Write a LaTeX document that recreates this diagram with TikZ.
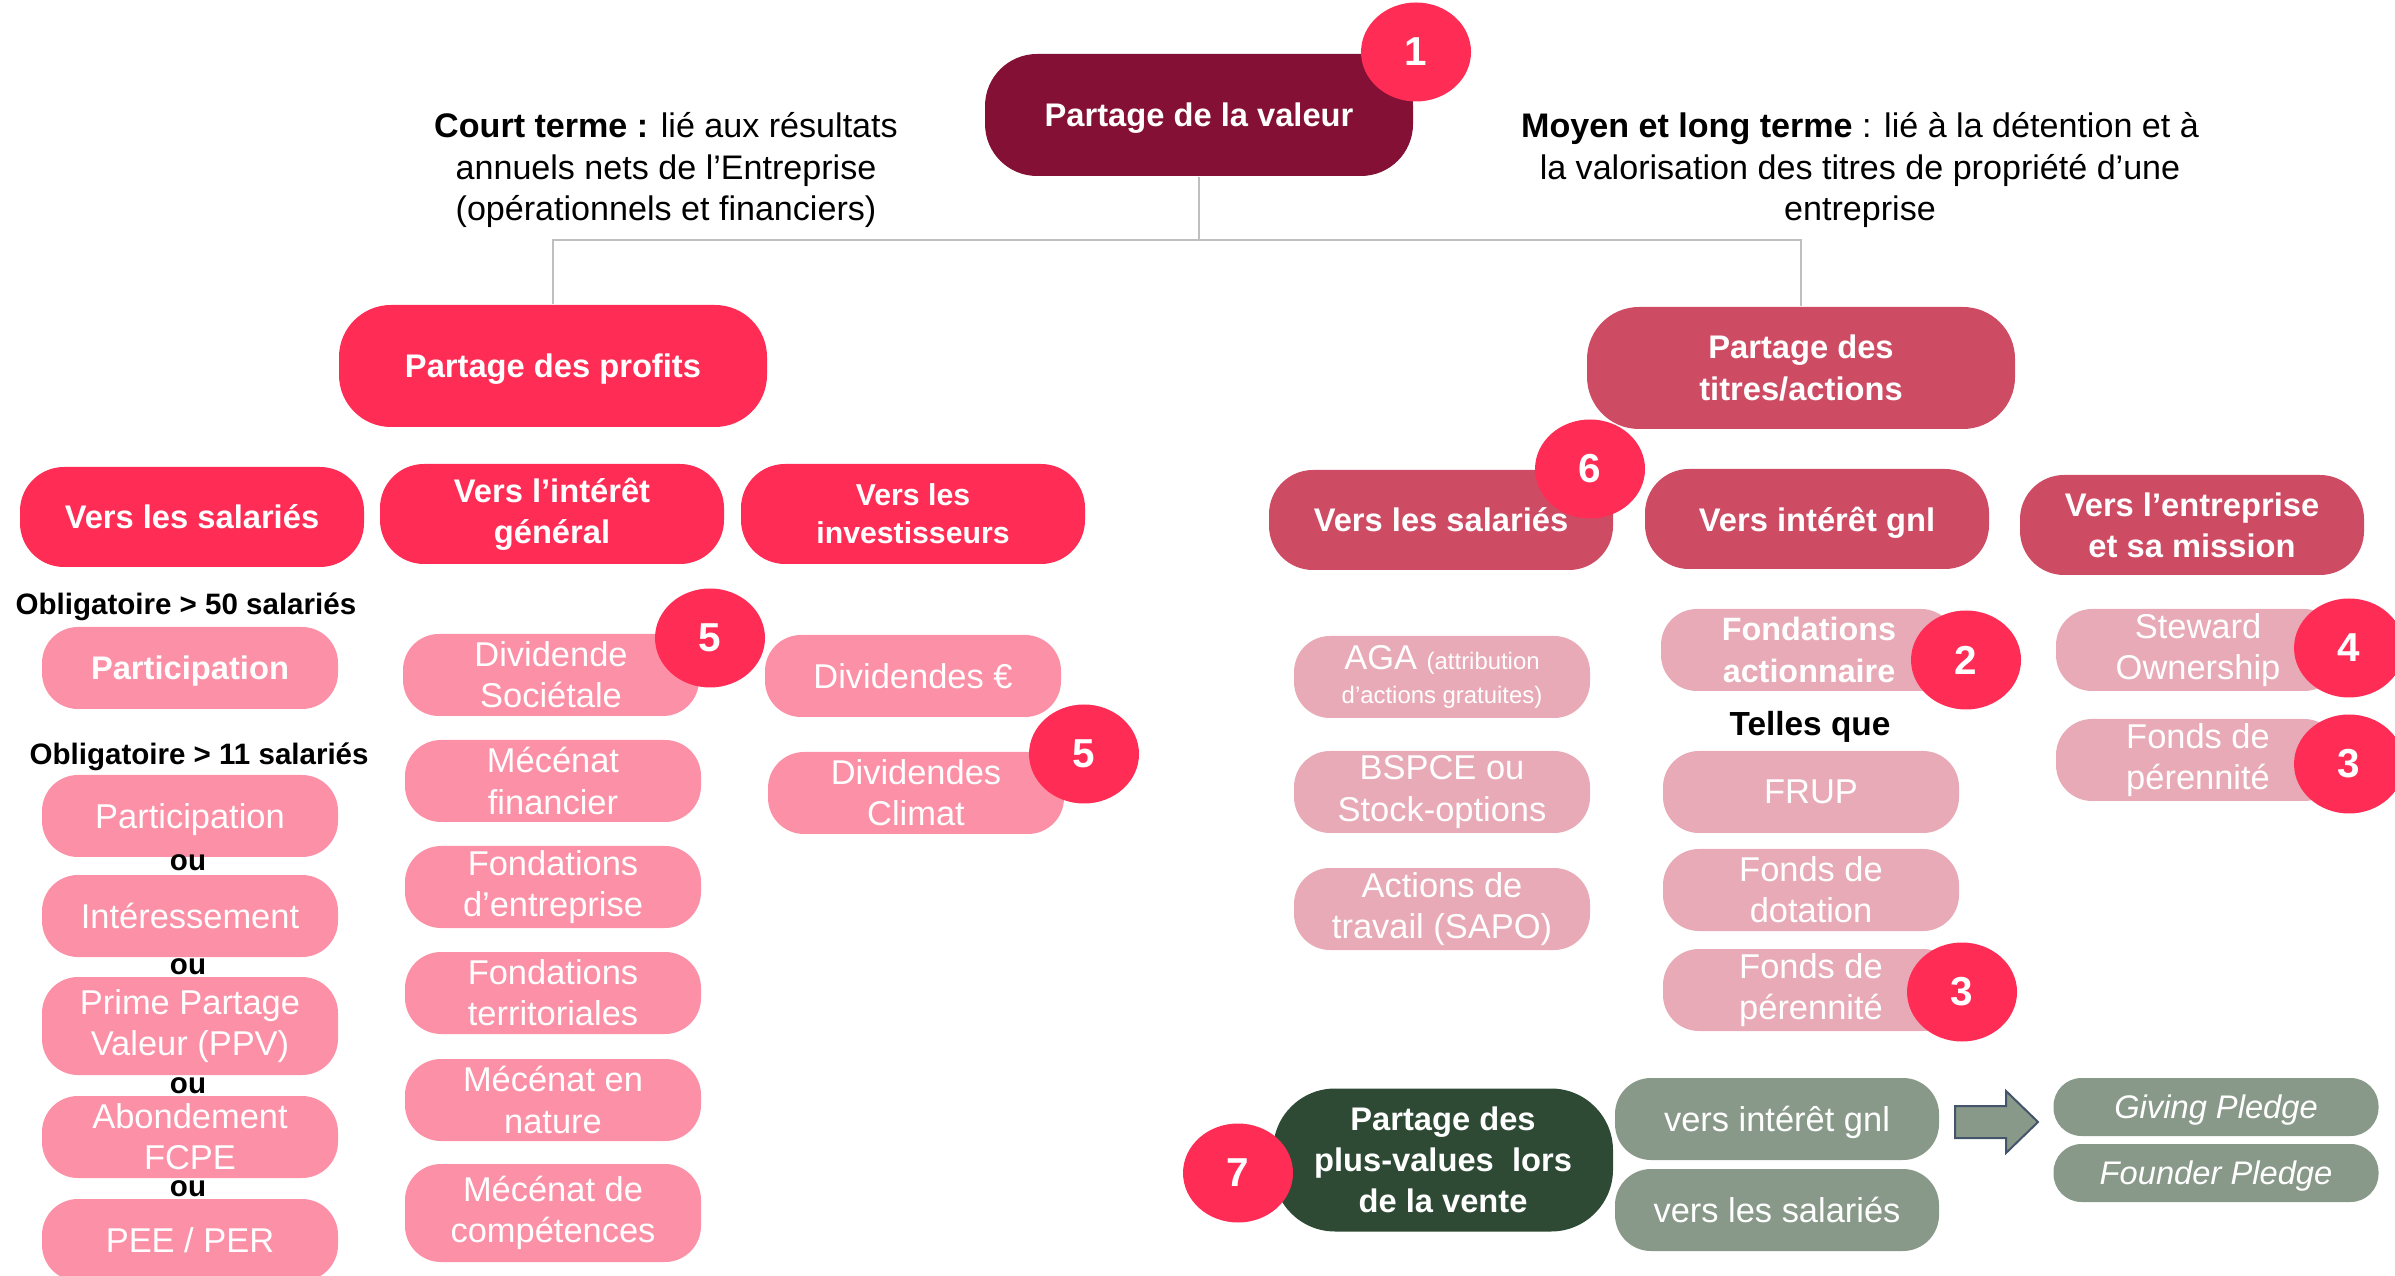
\documentclass[tikz,border=0pt]{standalone}
\usepackage{fontspec}
\setmainfont{Liberation Sans}
\usetikzlibrary{shapes.geometric}
\definecolor{maroon}{HTML}{841036}
\definecolor{hot}{HTML}{FF2D55}
\definecolor{muted}{HTML}{CE4B64}
\definecolor{lpink}{HTML}{FC90A6}
\definecolor{lrose}{HTML}{E8AAB6}
\definecolor{dgreen}{HTML}{2E4A34}
\definecolor{ggreen}{HTML}{899989}
\definecolor{connc}{HTML}{BFBFBF}
\definecolor{slate}{HTML}{44546A}
\newcommand\myfs[2]{\fontsize{#1}{#2}\selectfont}
\begin{document}
\begin{tikzpicture}[x=0.1mm,y=-0.1mm,
  pill/.style={rectangle, inner sep=0pt, align=center, text=white},
  bigbox/.style={pill, font=\myfs{9.3}{11.7}\bfseries, minimum width=42.8mm, minimum height=12.2mm, rounded corners=5.2mm},
  headbox/.style={pill, font=\myfs{9.3}{11.7}\bfseries, minimum width=34.4mm, minimum height=10mm, rounded corners=4.4mm},
  lbox/.style={pill, font=\myfs{9.8}{11.7}, minimum width=29.6mm, minimum height=8.2mm, rounded corners=3.6mm},
  pinkbox/.style={lbox, fill=lpink},
  rosebox/.style={lbox, fill=lrose},
  graybox/.style={lbox, fill=ggreen, minimum width=32.4mm},
  pledge/.style={pill, fill=ggreen, font=\myfs{9.3}{11}\itshape, minimum width=32.5mm, minimum height=5.8mm, rounded corners=2.8mm},
  badge/.style={ellipse, fill=hot, text=white, font=\myfs{11.5}{13}\bfseries, minimum width=11mm, minimum height=9.9mm, inner sep=0pt},
  desc/.style={align=center, font=\myfs{9.7}{11.7}, inner sep=0pt},
  note/.style={font=\myfs{8.4}{10}\bfseries, inner sep=0pt},
  oneline/.style={text depth=0pt},
  conn/.style={draw=connc, line width=0.2mm}
]
\useasboundingbox (0,0) rectangle (2395,1276);

% top
\node[bigbox, oneline, fill=maroon] (pv) at (1199,115) {Partage de la valeur};
\node[badge] (b1) at (1416,52) {1};
\node[desc] (ct) at (666,170) {\textbf{Court terme :} lié aux résultats\\annuels nets de l’Entreprise\\(opérationnels et financiers)};
\node[desc] (mt) at (1860,170) {\textbf{Moyen et long terme} : lié à la détention et à\\la valorisation des titres de propriété d’une\\entreprise};

\node[bigbox, oneline, fill=hot] (pp) at (553,366) {Partage des profits};
\node[bigbox, fill=muted] (pt) at (1801,368) {Partage des\\titres/actions};

\coordinate (mid) at (1199,240);
\draw[conn] (pv.south) -- (mid);
\draw[conn] (pp.north) |- (mid) -| (pt.north);

% row 2 left
\node[headbox, fill=hot] (vs1) at (192,517) {Vers les salariés};
\node[headbox, fill=hot] (vi1) at (552,514) {Vers l’intérêt\\général};
\node[headbox, fill=hot, font=\myfs{8.6}{10.8}\bfseries] (vinv) at (913,514) {Vers les\\investisseurs};

% row 2 right
\node[headbox, fill=muted] (vs2) at (1441,520) {Vers les salariés};
\node[headbox, oneline, fill=muted] (vi2) at (1817,519) {Vers intérêt gnl};
\node[headbox, fill=muted] (ve) at (2192,525) {Vers l’entreprise\\et sa mission};
\node[badge] (b6) at (1590,469) {6};

% left column
\node[note, anchor=west] (o50) at (15,607) {Obligatoire > 50 salariés};
\node[pinkbox, oneline, font=\myfs{9.3}{11.7}\bfseries] (part1) at (190,668) {Participation};
\node[note, anchor=west] (o11) at (29,757) {Obligatoire > 11 salariés};
\node[pinkbox, oneline] (part2) at (190,816) {Participation};
\node[note] (ou1) at (188,863) {ou};
\node[pinkbox] (inter) at (190,916) {Intéressement};
\node[note] (ou2) at (188,967) {ou};
\node[pinkbox, minimum height=9.8mm] (ppv) at (190,1026) {Prime Partage\\Valeur (PPV)};
\node[note] (ou3) at (188,1086) {ou};
\node[pinkbox] (abond) at (190,1137) {Abondement\\FCPE};
\node[note] (ou4) at (188,1189) {ou};
\node[pinkbox] (pee) at (190,1240) {PEE / PER};

% middle column
\node[pinkbox] (divs) at (551,675) {Dividende\\Sociétale};
\node[badge] (b5a) at (710,638) {5};
\node[pinkbox] (mf) at (553,781) {Mécénat\\financier};
\node[pinkbox] (fe) at (553,887) {Fondations\\d’entreprise};
\node[pinkbox] (ft) at (553,993) {Fondations\\territoriales};
\node[pinkbox] (mn) at (553,1100) {Mécénat en\\nature};
\node[pinkbox, minimum height=9.8mm] (mc) at (553,1213) {Mécénat de\\compétences};

% investors column
\node[pinkbox] (dive) at (913,676) {Dividendes €};
\node[pinkbox] (divc) at (916,793) {Dividendes\\Climat};
\node[badge] (b5b) at (1084,754) {5};

% right: salaries
\node[rosebox, font=\myfs{9.8}{9.8}] (aga) at (1442,677) {AGA {\myfs{6.8}{8}(attribution}\\{\myfs{6.8}{8}d’actions gratuites)}};
\node[rosebox] (bspce) at (1442,792) {BSPCE ou\\Stock-options};
\node[rosebox] (sapo) at (1442,909) {Actions de\\travail (SAPO)};

% right: interet gnl
\node[rosebox, font=\myfs{9.2}{11.7}\bfseries] (fa) at (1809,650) {Fondations\\actionnaire};
\node[badge] (b2) at (1966,660) {2};
\node[font=\myfs{9.5}{11}\bfseries, inner sep=0pt] (tq) at (1810,727) {Telles que};
\node[rosebox] (frup) at (1811,792) {FRUP};
\node[rosebox] (fd) at (1811,890) {Fonds de\\dotation};
\node[rosebox] (fp1) at (1811,990) {Fonds de\\pérennité};
\node[badge] (b3a) at (1962,992) {3};

% right: entreprise
\node[rosebox, minimum width=28.4mm] (so) at (2198,650) {Steward\\Ownership};
\node[badge] (b4) at (2349,648) {4};
\node[rosebox, minimum width=28.4mm] (fp2) at (2198,760) {Fonds de\\pérennité};
\node[badge] (b3b) at (2349,764) {3};

% bottom
\node[pill, fill=dgreen, font=\myfs{9.3}{11.7}\bfseries, minimum width=34mm, minimum height=14.3mm, rounded corners=6.2mm] (pvv) at (1443,1160) {Partage des\\plus-values\ \ lors\\de la vente};
\node[badge] (b7) at (1238,1173) {7};
\node[graybox, oneline] (vig) at (1777,1119) {vers intérêt gnl};
\node[graybox] (vsal) at (1777,1210) {vers les salariés};
\draw[fill=ggreen, draw=slate, line width=0.2mm, line join=miter]
  (1955,1106) -- (2006,1106) -- (2006,1091) -- (2038,1122) -- (2006,1153) -- (2006,1138) -- (1955,1138) -- cycle;
\node[pledge, oneline] (gp) at (2216,1107) {Giving Pledge};
\node[pledge, oneline] (fpl) at (2216,1173) {Founder Pledge};
\end{tikzpicture}
\end{document}
